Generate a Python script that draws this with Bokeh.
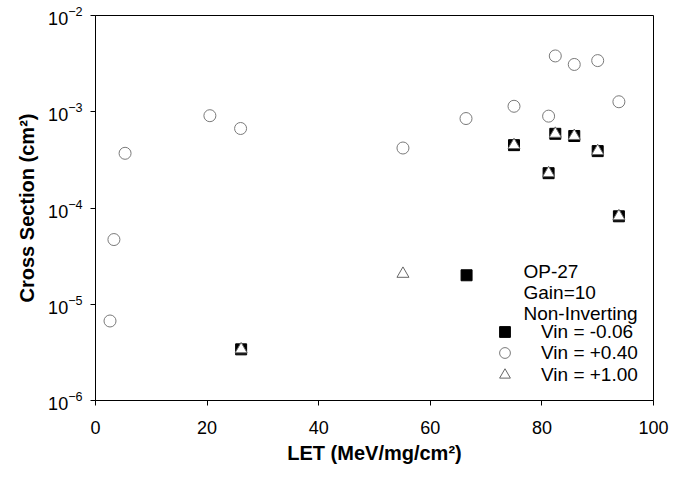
from bokeh.plotting import figure
from bokeh.models import Range1d, FixedTicker, LogTickFormatter, Legend, LegendItem, Label, ColumnDataSource
from bokeh.embed import file_html
from bokeh.resources import INLINE

# Data
let_neg006 = [26.1, 66.5, 75.0, 81.2, 82.4, 85.8, 90.0, 93.8]
xs_neg006 = [3.4e-6, 2.0e-5, 4.5e-4, 2.3e-4, 5.9e-4, 5.6e-4, 3.9e-4, 8.2e-5]

let_p040 = [2.6, 3.3, 5.3, 20.5, 26.0, 55.1, 66.4, 75.0, 81.2, 82.4, 85.8, 90.0, 93.8]
xs_p040 = [6.7e-6, 4.7e-5, 3.7e-4, 9.1e-4, 6.7e-4, 4.2e-4, 8.5e-4, 1.14e-3, 9.0e-4, 3.8e-3, 3.1e-3, 3.4e-3, 1.27e-3]

let_p100 = [26.1, 55.1, 75.0, 81.2, 82.4, 85.8, 90.0, 93.8]
xs_p100 = [3.4e-6, 2.07e-5, 4.5e-4, 2.3e-4, 5.9e-4, 5.6e-4, 3.9e-4, 8.2e-5]

x_ticks = [0, 20, 40, 60, 80, 100]
y_ticks = [1e-6, 1e-5, 1e-4, 1e-3, 1e-2]
header_lines = ["OP-27", "Gain=10", "Non-Inverting"]
series_labels = ["Vin = -0.06", "Vin = +0.40", "Vin = +1.00"]

FONT = "Liberation Sans"

p = figure(width=670, height=466, frame_width=558, frame_height=385,
           min_border_left=95, min_border_right=17, min_border_top=15, min_border_bottom=66,
           y_axis_type="log", x_range=Range1d(0, 100), y_range=Range1d(1e-6, 1e-2),
           output_backend="svg", toolbar_location=None)
p.background_fill_color = "white"
p.border_fill_color = "white"
p.outline_line_color = "black"
p.outline_line_width = 1
p.grid.visible = False

p.xaxis.ticker = FixedTicker(ticks=x_ticks, minor_ticks=[])
p.yaxis.ticker = FixedTicker(ticks=y_ticks, minor_ticks=[])
p.yaxis.formatter = LogTickFormatter()

for ax in (p.xaxis, p.yaxis):
    ax.axis_line_color = "black"
    ax.major_tick_line_color = "black"
    ax.major_tick_in = 0
    ax.major_tick_out = 5
    ax.minor_tick_line_color = None
    ax.major_label_text_font = FONT
    ax.major_label_text_font_size = "18px"
    ax.major_label_text_color = "black"
    ax.axis_label_text_font = FONT
    ax.axis_label_text_font_size = "20px"
    ax.axis_label_text_font_style = "bold"
    ax.axis_label_text_color = "black"

p.xaxis.axis_label = "LET (MeV/mg/cm²)"
p.yaxis.axis_label = "Cross Section (cm²)"
p.xaxis.major_label_standoff = 15
p.yaxis.major_label_standoff = 8
p.xaxis.axis_label_standoff = 5
p.yaxis.axis_label_standoff = 7

src_sq = ColumnDataSource(dict(x=let_neg006, y=xs_neg006))
src_ci = ColumnDataSource(dict(x=let_p040, y=xs_p040))
src_tr = ColumnDataSource(dict(x=let_p100, y=xs_p100))

r_sq = p.scatter("x", "y", source=src_sq, marker="square", size=11,
                 fill_color="black", line_color="black", line_width=1)
r_ci = p.scatter("x", "y", source=src_ci, marker="circle", size=12,
                 fill_color="white", line_color="#7a7a7a", line_width=1)
r_tr = p.scatter("x", "y", source=src_tr, marker="triangle", size=12,
                 fill_color="white", line_color="#666666", line_width=1)

# one single-item legend per row, so that each legend marker can be drawn large
for label, renderer, y_off in zip(series_labels, [r_sq, r_ci, r_tr], [55, 34, 12]):
    lg = Legend(items=[LegendItem(label=label, renderers=[renderer])],
                location=(396, y_off), orientation="vertical",
                glyph_width=27, glyph_height=27, label_height=27, spacing=0,
                label_standoff=23, padding=0, margin=0,
                border_line_color=None, background_fill_alpha=0,
                label_text_font=FONT, label_text_font_size="19px",
                label_text_color="black")
    p.add_layout(lg, "center")

for i, line in enumerate(header_lines):
    p.add_layout(Label(x=428, y=129 - 21 * i, x_units="screen", y_units="screen",
                       text=line, text_font=FONT, text_font_size="19px",
                       text_color="black", text_baseline="middle", text_align="left"))

open("out.html", "w").write(file_html(p, INLINE))
